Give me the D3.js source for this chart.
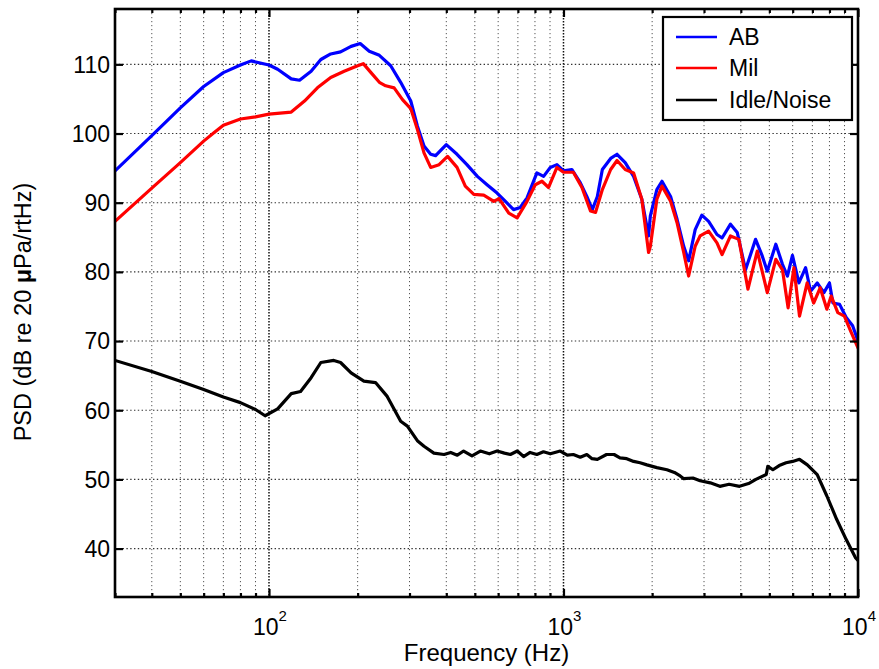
<!DOCTYPE html>
<html>
<head>
<meta charset="utf-8">
<script src="https://cdn.jsdelivr.net/npm/d3@7"></script>
<style>
  html, body { margin: 0; padding: 0; background: #fff; }
  svg { display: block; font-family: "Liberation Sans", Arial, Helvetica, sans-serif; }
</style>
</head>
<body>
<svg id="chart" width="879" height="669"></svg>
<script>
// Power spectral density of three recordings (dB re 20 µPa/√Hz)
const abFreq = [30, 40, 50, 60, 70, 80, 87, 100, 107, 119, 127, 139, 150, 162, 175, 190, 204, 219, 237, 259, 280, 303,
  319, 336, 354, 368, 400, 435, 470, 510, 550, 595, 635, 677, 713, 752, 812, 856, 902, 950, 1000, 1067, 1140, 1200,
  1253, 1303, 1355, 1446, 1520, 1620, 1730, 1845, 1945, 1972, 2075, 2160, 2310, 2430, 2560, 2660, 2800, 2950, 3110,
  3320, 3455, 3690, 3890, 4150, 4490, 4730, 4920, 5260, 5540, 5760, 5990, 6300, 6640, 6900, 7270, 7660, 8000, 8220,
  8660, 9120, 9590, 10000];
const abLevel = [94.6, 99.7, 103.7, 106.8, 108.8, 109.9, 110.5, 109.9, 109.3, 107.9, 107.7, 109.0, 110.7, 111.5, 111.8,
  112.6, 113.0, 111.9, 111.3, 109.8, 107.4, 104.7, 101.1, 98.2, 97.0, 96.8, 98.4, 97.0, 95.5, 93.8, 92.6, 91.4, 90.2,
  89.0, 89.3, 90.7, 94.3, 93.8, 95.1, 95.5, 94.6, 94.8, 92.9, 90.9, 89.0, 90.9, 94.8, 96.4, 97.0, 95.8, 93.8, 90.5,
  85.2, 88.1, 91.9, 93.1, 90.9, 87.6, 83.7, 81.6, 86.1, 88.2, 87.3, 85.4, 84.9, 86.9, 85.7, 80.3, 84.7, 82.3, 80.1,
  84.0, 81.1, 79.4, 82.4, 78.4, 80.6, 77.2, 78.4, 77.0, 78.4, 75.5, 75.3, 73.4, 72.2, 70.0];

const milFreq = [30, 40, 50, 60, 65, 70, 80, 90, 100, 119, 132, 146, 162, 180, 200, 209, 222, 237, 249, 266, 284, 303,
  319, 336, 354, 378, 404, 435, 464, 496, 536, 580, 604, 652, 696, 752, 802, 845, 890, 950, 1000, 1080, 1155, 1235,
  1285, 1355, 1446, 1520, 1620, 1730, 1845, 1945, 1972, 2075, 2160, 2310, 2430, 2560, 2660, 2800, 2910, 3110, 3320,
  3455, 3690, 3940, 4230, 4550, 4920, 5260, 5540, 5790, 6060, 6330, 6720, 7070, 7440, 7840, 8110, 8540, 8990, 9450,
  10000];
const milLevel = [87.3, 92.1, 95.8, 98.9, 100.1, 101.2, 102.1, 102.4, 102.8, 103.1, 104.7, 106.6, 108.1, 109.0, 109.8,
  110.1, 108.8, 107.4, 106.9, 106.6, 104.9, 103.6, 100.6, 97.2, 95.1, 95.5, 96.7, 95.1, 92.4, 91.2, 91.1, 90.2, 90.6,
  88.5, 87.8, 90.2, 92.6, 93.1, 92.2, 95.1, 94.4, 94.4, 92.2, 88.8, 88.6, 91.9, 94.8, 96.1, 94.8, 94.3, 90.5, 82.8,
  83.7, 90.5, 92.4, 90.2, 87.1, 82.8, 79.4, 83.7, 85.2, 85.9, 84.2, 82.5, 85.2, 84.7, 77.5, 83.0, 77.0, 81.8, 80.3,
  74.8, 80.6, 73.6, 78.4, 75.5, 77.7, 74.6, 76.5, 74.1, 73.6, 71.4, 69.0];

const idleFreq = [30, 40, 50, 60, 70, 80, 90, 97, 107, 119, 128, 139, 150, 166, 175, 190, 210, 230, 252, 280, 295,
  319, 336, 363, 393, 414, 436, 458, 489, 522, 560, 595, 630, 660, 697, 732, 770, 812, 855, 902, 975, 1030, 1080,
  1140, 1200, 1250, 1303, 1400, 1485, 1555, 1640, 1730, 1820, 1920, 2075, 2245, 2380, 2490, 2560, 2750, 2910, 3150,
  3395, 3650, 3960, 4250, 4500, 4880, 4940, 5140, 5400, 5700, 6000, 6330, 6730, 7270, 7840, 8470, 9120, 9800, 10000];
const idleLevel = [67.2, 65.6, 64.2, 63.0, 61.9, 61.1, 60.1, 59.2, 60.2, 62.4, 62.7, 64.7, 66.9, 67.2, 66.9, 65.4,
  64.2, 64.0, 62.0, 58.4, 57.7, 55.6, 54.8, 53.8, 53.6, 53.9, 53.5, 54.1, 53.4, 54.1, 53.7, 54.1, 53.8, 53.6, 54.1,
  53.3, 53.9, 53.6, 54.0, 53.7, 54.1, 53.5, 53.6, 53.2, 53.6, 53.0, 52.9, 53.6, 53.6, 53.1, 53.0, 52.6, 52.4, 52.1,
  51.7, 51.4, 51.0, 50.5, 50.1, 50.2, 49.8, 49.5, 49.0, 49.3, 49.0, 49.4, 50.0, 50.7, 51.9, 51.4, 52.0, 52.4, 52.6,
  52.9, 52.1, 50.7, 47.6, 44.2, 41.3, 38.7, 38.3];

const seriesNames = ["AB", "Mil", "Idle/Noise"];
const seriesColors = ["#0000ff", "#ff0000", "#000000"];

const yTicks = [40, 50, 60, 70, 80, 90, 100, 110];
const xMajorTicks = [100, 1000, 10000];
const xMinorTicks = [30, 40, 50, 60, 70, 80, 90, 200, 300, 400, 500, 600, 700, 800, 900,
  2000, 3000, 4000, 5000, 6000, 7000, 8000, 9000];

const xLabel = "Frequency (Hz)";
const yLabelParts = ["PSD (dB re 20 ", "\u03bc", "Pa/rtHz)"];

// ---- layout ----
const plot = { left: 115, right: 858, top: 9, bottom: 597 };
const svg = d3.select("#chart");

const x = d3.scaleLog().domain([30, 10000]).range([plot.left, plot.right]);
const y = d3.scaleLinear().domain([33, 118]).range([plot.bottom, plot.top]);

svg.append("defs").append("clipPath").attr("id", "plotClip")
  .append("rect")
  .attr("x", plot.left).attr("y", plot.top)
  .attr("width", plot.right - plot.left).attr("height", plot.bottom - plot.top);

// ---- grid (dotted) ----
const grid = svg.append("g").attr("class", "grid");
grid.selectAll("line.xminor").data(xMinorTicks).join("line")
  .attr("x1", d => x(d)).attr("x2", d => x(d))
  .attr("y1", plot.top).attr("y2", plot.bottom)
  .attr("stroke", "#555").attr("stroke-width", 1).attr("stroke-dasharray", "1.2,2.8");
grid.selectAll("line.xmajor").data(xMajorTicks.filter(d => d < 10000)).join("line")
  .attr("x1", d => x(d)).attr("x2", d => x(d))
  .attr("y1", plot.top).attr("y2", plot.bottom)
  .attr("stroke", "#111").attr("stroke-width", 1.5).attr("stroke-dasharray", "1.5,1.5");
grid.selectAll("line.y").data(yTicks).join("line")
  .attr("x1", plot.left).attr("x2", plot.right)
  .attr("y1", d => y(d)).attr("y2", d => y(d))
  .attr("stroke", "#333").attr("stroke-width", 1.1).attr("stroke-dasharray", "1.4,2.4");

// ---- data lines ----
const line = d3.line().x(d => x(d[0])).y(d => y(d[1]));
const series = [
  d3.zip(abFreq, abLevel),
  d3.zip(milFreq, milLevel),
  d3.zip(idleFreq, idleLevel)
];
const lines = svg.append("g").attr("clip-path", "url(#plotClip)");
series.forEach((pts, i) => {
  lines.append("path")
    .datum(pts)
    .attr("d", line)
    .attr("fill", "none")
    .attr("stroke", seriesColors[i])
    .attr("stroke-width", 3.2)
    .attr("stroke-linejoin", "round")
    .attr("stroke-linecap", "round");
});

// ---- axes: inward ticks on all four sides ----
function styleAxis(g) {
  g.select(".domain").remove();
  g.selectAll(".tick line").attr("stroke", "#000").attr("stroke-width", 2.2);
  g.selectAll(".tick text").remove();
}
svg.append("g").attr("transform", `translate(0,${plot.bottom})`)
  .call(d3.axisBottom(x).tickValues(xMinorTicks).tickSize(-4)).call(styleAxis);
svg.append("g").attr("transform", `translate(0,${plot.bottom})`)
  .call(d3.axisBottom(x).tickValues(xMajorTicks).tickSize(-8)).call(styleAxis);
svg.append("g").attr("transform", `translate(0,${plot.top})`)
  .call(d3.axisTop(x).tickValues(xMinorTicks).tickSize(-4)).call(styleAxis);
svg.append("g").attr("transform", `translate(0,${plot.top})`)
  .call(d3.axisTop(x).tickValues(xMajorTicks).tickSize(-8)).call(styleAxis);
svg.append("g").attr("transform", `translate(${plot.left},0)`)
  .call(d3.axisLeft(y).tickValues(yTicks).tickSize(-8)).call(styleAxis);
svg.append("g").attr("transform", `translate(${plot.right},0)`)
  .call(d3.axisRight(y).tickValues(yTicks).tickSize(-8)).call(styleAxis);

// frame
svg.append("rect")
  .attr("x", plot.left).attr("y", plot.top)
  .attr("width", plot.right - plot.left).attr("height", plot.bottom - plot.top)
  .attr("fill", "none").attr("stroke", "#000").attr("stroke-width", 2.6);

// ---- tick labels ----
svg.append("g").selectAll("text").data(yTicks).join("text")
  .attr("x", plot.left - 5).attr("y", d => y(d))
  .attr("dy", "0.36em")
  .attr("text-anchor", "end")
  .attr("font-size", 23)
  .attr("fill", "#000")
  .text(d => d);

const xl = svg.append("g").selectAll("text").data(xMajorTicks).join("text")
  .attr("x", d => x(d) + 1).attr("y", 635)
  .attr("text-anchor", "middle")
  .attr("font-size", 23)
  .attr("fill", "#000");
xl.append("tspan").text("10");
xl.append("tspan").attr("dy", -14).attr("font-size", 15).text(d => Math.round(Math.log10(d)));

// ---- axis titles ----
svg.append("text")
  .attr("x", (plot.left + plot.right) / 2).attr("y", 661)
  .attr("text-anchor", "middle")
  .attr("font-size", 24)
  .attr("fill", "#000")
  .text(xLabel);

const yt = svg.append("text")
  .attr("transform", `translate(31,${312}) rotate(-90)`)
  .attr("text-anchor", "middle")
  .attr("font-size", 23.5)
  .attr("fill", "#000");
yt.append("tspan").text(yLabelParts[0]);
yt.append("tspan").attr("font-weight", "bold").text(yLabelParts[1]);
yt.append("tspan").text(yLabelParts[2]);

// ---- legend ----
const legend = svg.append("g");
legend.append("rect")
  .attr("x", 663).attr("y", 17).attr("width", 189).attr("height", 103)
  .attr("fill", "#fff").attr("stroke", "#000").attr("stroke-width", 2.2);
const rowY = [37, 68, 100];
seriesNames.forEach((name, i) => {
  legend.append("line")
    .attr("x1", 676).attr("x2", 717)
    .attr("y1", rowY[i]).attr("y2", rowY[i])
    .attr("stroke", seriesColors[i]).attr("stroke-width", 2.4);
  legend.append("text")
    .attr("x", 729).attr("y", rowY[i]).attr("dy", "0.36em")
    .attr("font-size", 23)
    .attr("fill", "#000")
    .text(name);
});
</script>
</body>
</html>
